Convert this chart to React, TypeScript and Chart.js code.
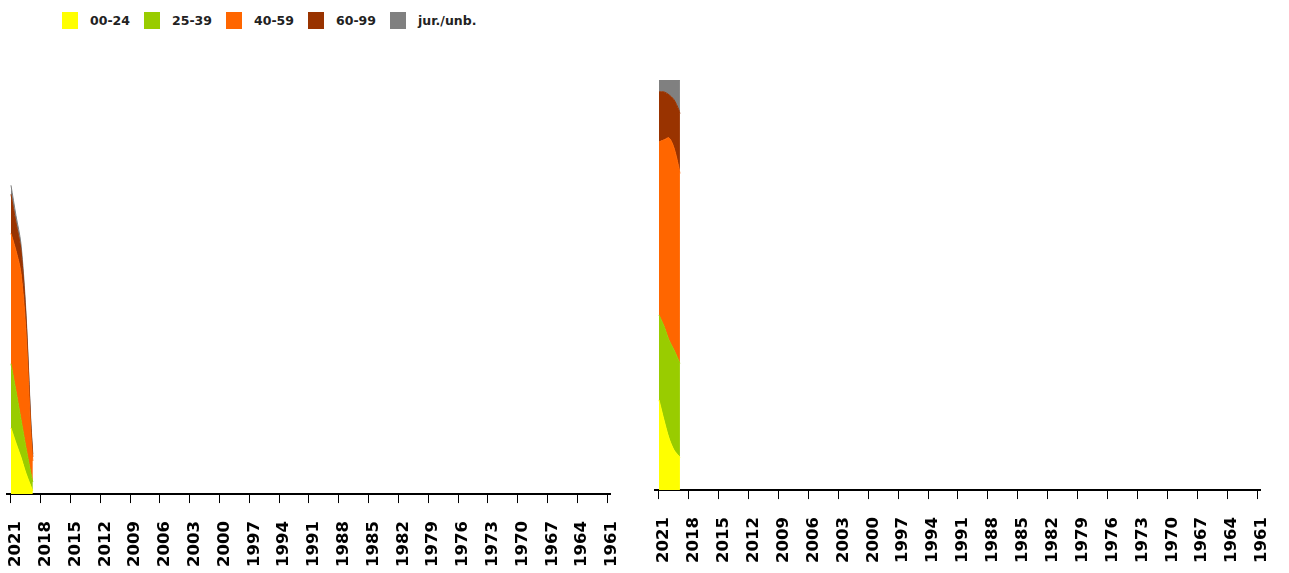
import React, { useEffect, useRef } from "react";
import { Chart, registerables } from "chart.js";

Chart.register(...registerables);

const seriesNames = ["00-24", "25-39", "40-59", "60-99", "jur./unb."];
const seriesColors = ["#FFFF00", "#99CC00", "#FF6600", "#993300", "#808080"];
const tickYears = [2021, 2018, 2015, 2012, 2009, 2006, 2003, 2000, 1997, 1994, 1991, 1988, 1985, 1982, 1979, 1976, 1973, 1970, 1967, 1964, 1961];

// left panel: absolute values
const leftYears = [2021, 2020.5, 2020, 2019.5, 2019, 2018.8];
const left0024 = [66, 51, 37, 21, 8, 3];
const left2539 = [64, 52, 38, 26, 13, 9];
const left4059 = [130, 140, 146, 116, 40, 21];
const left6099 = [39, 28, 23, 15, 8, 4];
const leftJur = [9, 7, 6, 5, 4, 3];
const leftMax = 413;

// right panel: shares in percent
const rightYears = [2021, 2020.5, 2020, 2019.5, 2019, 2018.9];
const right0024 = [22.0, 17.1, 12.7, 9.8, 8.3, 8.0];
const right2539 = [20.7, 22.9, 23.9, 24.4, 23.2, 22.9];
const right4059 = [42.2, 45.4, 49.3, 49.3, 47.1, 46.3];
const right6099 = [12.2, 11.7, 10.5, 11.7, 14.1, 14.6];
const rightJur = [2.9, 2.9, 3.6, 4.8, 7.3, 8.2];
const rightMax = 100;

type PanelProps = {
  years: number[];
  series: number[][];
  yMax: number;
  left: number;
  width: number;
  height: number;
  padding: { left: number; right: number; top: number; bottom: number };
};

function Panel({ years, series, yMax, left, width, height, padding }: PanelProps) {
  const ref = useRef<HTMLCanvasElement | null>(null);
  useEffect(() => {
    if (!ref.current) return;
    const chart = new Chart(ref.current, {
      type: "line",
      data: {
        datasets: series.map((vals, si) => ({
          label: seriesNames[si],
          data: years.map((x, i) => ({ x, y: vals[i] })),
          backgroundColor: seriesColors[si],
          borderColor: seriesColors[si],
          borderWidth: 1,
          pointRadius: 0,
          tension: 0.3,
          fill: si === 0 ? "origin" : "-1",
        })),
      },
      options: {
        animation: false,
        responsive: true,
        maintainAspectRatio: false,
        layout: { padding },
        plugins: { legend: { display: false }, tooltip: { enabled: false } },
        scales: {
          x: {
            type: "linear",
            reverse: true,
            min: 1960.7,
            max: 2021.4,
            afterBuildTicks: (scale: any) => {
              scale.ticks = tickYears.map((v) => ({ value: v }));
            },
            afterFit: (scale: any) => {
              scale.paddingLeft = 0;
              scale.paddingRight = 0;
            },
            ticks: {
              autoSkip: false,
              maxRotation: 90,
              minRotation: 90,
              color: "#000",
              padding: 18,
              labelOffset: 5,
              font: { family: "DejaVu Sans", weight: "bold", size: 16.5 },
              callback: (v: any) => String(v),
            },
            grid: {
              display: true,
              drawOnChartArea: false,
              drawTicks: true,
              tickLength: 9,
              color: "#000",
              lineWidth: 1,
            },
            border: { display: true, color: "#000", width: 2 },
          },
          y: { display: false, stacked: true, min: 0, max: yMax },
        },
      },
    });
    return () => chart.destroy();
  }, []);
  return (
    <div style={{ position: "absolute", left, top: 0, width, height }}>
      <canvas ref={ref} />
    </div>
  );
}

const legendX = [62, 144, 226, 308, 390];

export default function App() {
  return (
    <div style={{ position: "fixed", left: 0, top: 0, width: 1289, height: 573, background: "#fff", overflow: "hidden" }}>
      {seriesNames.map((name, i) => (
        <div key={name} style={{ position: "absolute", left: legendX[i], top: 12, display: "flex", alignItems: "center", height: 17 }}>
          <div style={{ width: 16, height: 17, background: seriesColors[i] }} />
          <span style={{ marginLeft: 12, font: "bold 12.5px 'DejaVu Sans'", color: "#222" }}>{name}</span>
        </div>
      ))}
      <Panel
        years={leftYears}
        series={[left0024, left2539, left4059, left6099, leftJur]}
        yMax={leftMax}
        left={0}
        width={640}
        height={593}
        padding={{ left: 7, right: 30, top: 80, bottom: 8 }}
      />
      <Panel
        years={rightYears}
        series={[right0024, right2539, right4059, right6099, rightJur]}
        yMax={rightMax}
        left={648}
        width={641}
        height={593}
        padding={{ left: 7, right: 29, top: 80, bottom: 12 }}
      />
    </div>
  );
}
